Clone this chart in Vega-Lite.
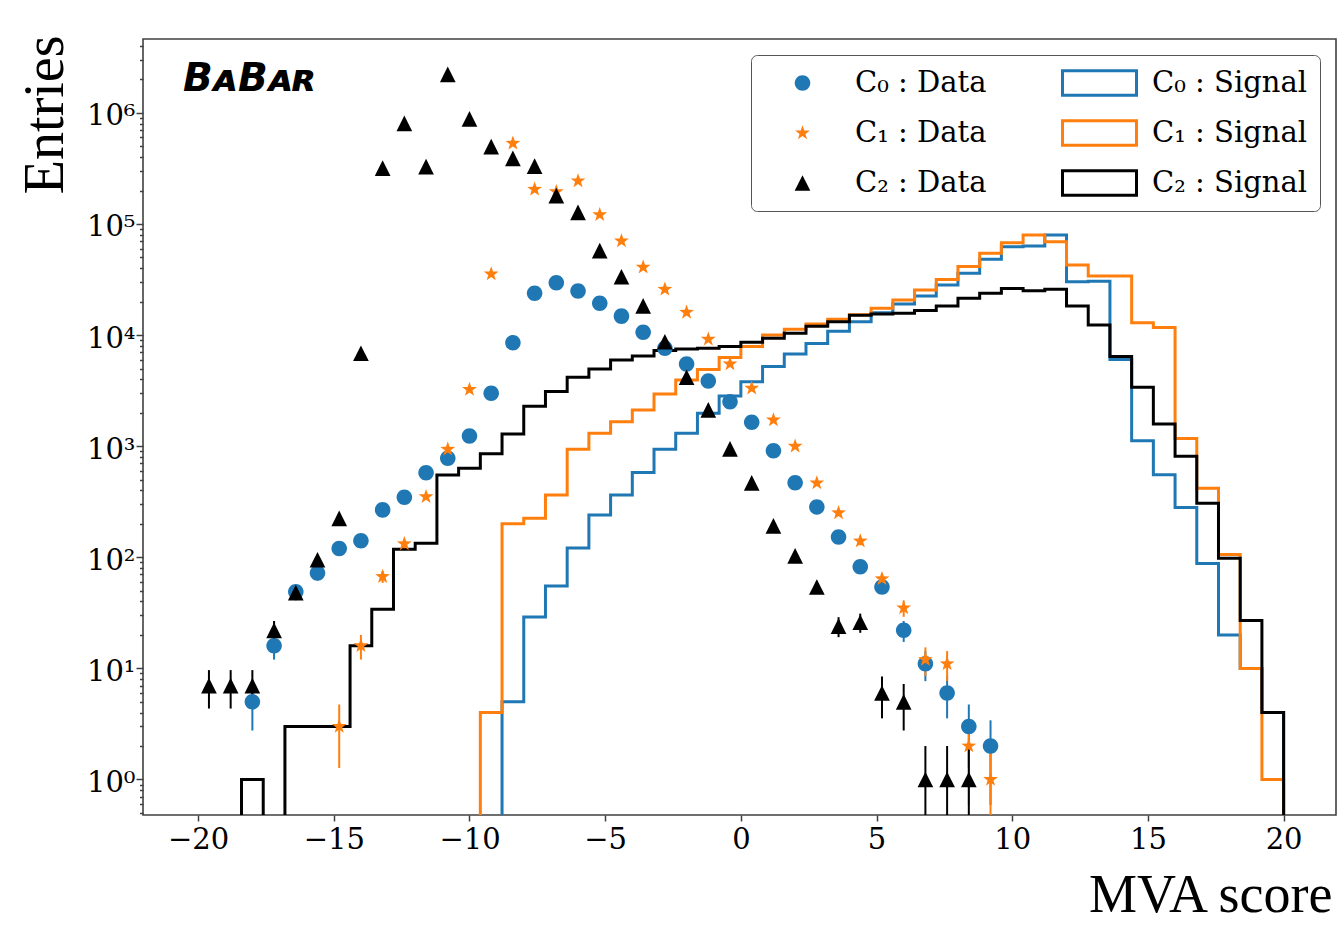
{
 "$schema": "https://vega.github.io/schema/vega-lite/v6.json",
 "width": 1193,
 "height": 776,
 "autosize": {"type": "none"},
 "padding": {"left": 143, "top": 39, "right": 5, "bottom": 110},
 "background": "white",
 "config": {
  "view": {"stroke": "#404040", "strokeWidth": 1.6},
  "axis": {"grid": false, "domain": false, "labelFont": "DejaVu Serif", "labelFontSize": 29, "labelColor": "#000", "tickColor": "#404040", "tickWidth": 1.5, "titleColor": "#000", "titleFont": "Liberation Serif", "titleFontWeight": "normal"},
  "legend": {"orient": "top-right", "offset": 16, "columns": 2, "labelFont": "DejaVu Serif", "labelFontSize": 29, "labelColor": "#000", "labelOffset": 14, "clipHeight": 30, "rowPadding": 20, "columnPadding": 74, "padding": 13, "strokeColor": "#555", "cornerRadius": 6, "symbolStrokeWidth": 3, "symbolSize": 5476, "labelLimit": 0, "symbolOpacity": 1}
 },
 "datasets": {
  "sig": [
   {"s":"C₀ : Signal","e":-20,"n":0},{"s":"C₀ : Signal","e":-19.2,"n":0},{"s":"C₀ : Signal","e":-18.4,"n":0},{"s":"C₀ : Signal","e":-17.6,"n":0},{"s":"C₀ : Signal","e":-16.8,"n":0},{"s":"C₀ : Signal","e":-16,"n":0},{"s":"C₀ : Signal","e":-15.2,"n":0},{"s":"C₀ : Signal","e":-14.4,"n":0},{"s":"C₀ : Signal","e":-13.6,"n":0},{"s":"C₀ : Signal","e":-12.8,"n":0},
   {"s":"C₀ : Signal","e":-12,"n":0},{"s":"C₀ : Signal","e":-11.2,"n":0},{"s":"C₀ : Signal","e":-10.4,"n":0},{"s":"C₀ : Signal","e":-9.6,"n":0},{"s":"C₀ : Signal","e":-8.8,"n":5},{"s":"C₀ : Signal","e":-8,"n":29},{"s":"C₀ : Signal","e":-7.2,"n":55},{"s":"C₀ : Signal","e":-6.4,"n":121},{"s":"C₀ : Signal","e":-5.6,"n":240},{"s":"C₀ : Signal","e":-4.8,"n":363},
   {"s":"C₀ : Signal","e":-4,"n":578},{"s":"C₀ : Signal","e":-3.2,"n":937},{"s":"C₀ : Signal","e":-2.4,"n":1310},{"s":"C₀ : Signal","e":-1.6,"n":1980},{"s":"C₀ : Signal","e":-0.8,"n":2830},{"s":"C₀ : Signal","e":0,"n":3800},{"s":"C₀ : Signal","e":0.8,"n":5200},{"s":"C₀ : Signal","e":1.6,"n":6760},{"s":"C₀ : Signal","e":2.4,"n":8400},{"s":"C₀ : Signal","e":3.2,"n":10800},
   {"s":"C₀ : Signal","e":4,"n":13200},{"s":"C₀ : Signal","e":4.8,"n":15900},{"s":"C₀ : Signal","e":5.6,"n":19000},{"s":"C₀ : Signal","e":6.4,"n":22500},{"s":"C₀ : Signal","e":7.2,"n":28200},{"s":"C₀ : Signal","e":8,"n":36000},{"s":"C₀ : Signal","e":8.8,"n":48000},{"s":"C₀ : Signal","e":9.6,"n":62500},{"s":"C₀ : Signal","e":10.4,"n":63300},{"s":"C₀ : Signal","e":11.2,"n":79600},
   {"s":"C₀ : Signal","e":12,"n":30200},{"s":"C₀ : Signal","e":12.8,"n":30500},{"s":"C₀ : Signal","e":13.6,"n":6040},{"s":"C₀ : Signal","e":14.4,"n":1120},{"s":"C₀ : Signal","e":15.2,"n":552},{"s":"C₀ : Signal","e":16,"n":281},{"s":"C₀ : Signal","e":16.8,"n":88},{"s":"C₀ : Signal","e":17.6,"n":20},{"s":"C₀ : Signal","e":18.4,"n":10},{"s":"C₀ : Signal","e":19.2,"n":4},{"s":"C₀ : Signal","e":20,"n":0},

   {"s":"C₁ : Signal","e":-20,"n":0},{"s":"C₁ : Signal","e":-19.2,"n":0},{"s":"C₁ : Signal","e":-18.4,"n":0},{"s":"C₁ : Signal","e":-17.6,"n":0},{"s":"C₁ : Signal","e":-16.8,"n":0},{"s":"C₁ : Signal","e":-16,"n":0},{"s":"C₁ : Signal","e":-15.2,"n":0},{"s":"C₁ : Signal","e":-14.4,"n":0},{"s":"C₁ : Signal","e":-13.6,"n":0},{"s":"C₁ : Signal","e":-12.8,"n":0},
   {"s":"C₁ : Signal","e":-12,"n":0},{"s":"C₁ : Signal","e":-11.2,"n":0},{"s":"C₁ : Signal","e":-10.4,"n":0},{"s":"C₁ : Signal","e":-9.6,"n":4},{"s":"C₁ : Signal","e":-8.8,"n":200},{"s":"C₁ : Signal","e":-8,"n":224},{"s":"C₁ : Signal","e":-7.2,"n":363},{"s":"C₁ : Signal","e":-6.4,"n":937},{"s":"C₁ : Signal","e":-5.6,"n":1310},{"s":"C₁ : Signal","e":-4.8,"n":1660},
   {"s":"C₁ : Signal","e":-4,"n":2120},{"s":"C₁ : Signal","e":-3.2,"n":2950},{"s":"C₁ : Signal","e":-2.4,"n":3950},{"s":"C₁ : Signal","e":-1.6,"n":4900},{"s":"C₁ : Signal","e":-0.8,"n":6270},{"s":"C₁ : Signal","e":0,"n":7870},{"s":"C₁ : Signal","e":0.8,"n":10000},{"s":"C₁ : Signal","e":1.6,"n":11300},{"s":"C₁ : Signal","e":2.4,"n":12600},{"s":"C₁ : Signal","e":3.2,"n":13900},
   {"s":"C₁ : Signal","e":4,"n":15200},{"s":"C₁ : Signal","e":4.8,"n":17400},{"s":"C₁ : Signal","e":5.6,"n":20700},{"s":"C₁ : Signal","e":6.4,"n":25500},{"s":"C₁ : Signal","e":7.2,"n":31700},{"s":"C₁ : Signal","e":8,"n":41300},{"s":"C₁ : Signal","e":8.8,"n":54500},{"s":"C₁ : Signal","e":9.6,"n":67700},{"s":"C₁ : Signal","e":10.4,"n":79600},{"s":"C₁ : Signal","e":11.2,"n":69300},
   {"s":"C₁ : Signal","e":12,"n":42800},{"s":"C₁ : Signal","e":12.8,"n":34000},{"s":"C₁ : Signal","e":13.6,"n":34000},{"s":"C₁ : Signal","e":14.4,"n":12900},{"s":"C₁ : Signal","e":15.2,"n":11700},{"s":"C₁ : Signal","e":16,"n":1170},{"s":"C₁ : Signal","e":16.8,"n":417},{"s":"C₁ : Signal","e":17.6,"n":106},{"s":"C₁ : Signal","e":18.4,"n":10},{"s":"C₁ : Signal","e":19.2,"n":1},{"s":"C₁ : Signal","e":20,"n":0},

   {"s":"C₂ : Signal","e":-20,"n":0},{"s":"C₂ : Signal","e":-19.2,"n":0},{"s":"C₂ : Signal","e":-18.4,"n":1},{"s":"C₂ : Signal","e":-17.6,"n":0},{"s":"C₂ : Signal","e":-16.8,"n":3},{"s":"C₂ : Signal","e":-16,"n":3},{"s":"C₂ : Signal","e":-15.2,"n":3},{"s":"C₂ : Signal","e":-14.4,"n":16},{"s":"C₂ : Signal","e":-13.6,"n":34},{"s":"C₂ : Signal","e":-12.8,"n":118},
   {"s":"C₂ : Signal","e":-12,"n":134},{"s":"C₂ : Signal","e":-11.2,"n":551},{"s":"C₂ : Signal","e":-10.4,"n":632},{"s":"C₂ : Signal","e":-9.6,"n":855},{"s":"C₂ : Signal","e":-8.8,"n":1290},{"s":"C₂ : Signal","e":-8,"n":2290},{"s":"C₂ : Signal","e":-7.2,"n":3100},{"s":"C₂ : Signal","e":-6.4,"n":4170},{"s":"C₂ : Signal","e":-5.6,"n":4950},{"s":"C₂ : Signal","e":-4.8,"n":5970},
   {"s":"C₂ : Signal","e":-4,"n":6470},{"s":"C₂ : Signal","e":-3.2,"n":7250},{"s":"C₂ : Signal","e":-2.4,"n":7500},{"s":"C₂ : Signal","e":-1.6,"n":7600},{"s":"C₂ : Signal","e":-0.8,"n":7870},{"s":"C₂ : Signal","e":0,"n":8600},{"s":"C₂ : Signal","e":0.8,"n":9350},{"s":"C₂ : Signal","e":1.6,"n":10400},{"s":"C₂ : Signal","e":2.4,"n":12000},{"s":"C₂ : Signal","e":3.2,"n":13200},
   {"s":"C₂ : Signal","e":4,"n":15100},{"s":"C₂ : Signal","e":4.8,"n":15500},{"s":"C₂ : Signal","e":5.6,"n":15700},{"s":"C₂ : Signal","e":6.4,"n":16600},{"s":"C₂ : Signal","e":7.2,"n":18300},{"s":"C₂ : Signal","e":8,"n":21400},{"s":"C₂ : Signal","e":8.8,"n":23800},{"s":"C₂ : Signal","e":9.6,"n":26300},{"s":"C₂ : Signal","e":10.4,"n":25100},{"s":"C₂ : Signal","e":11.2,"n":25800},
   {"s":"C₂ : Signal","e":12,"n":18300},{"s":"C₂ : Signal","e":12.8,"n":12300},{"s":"C₂ : Signal","e":13.6,"n":6400},{"s":"C₂ : Signal","e":14.4,"n":3390},{"s":"C₂ : Signal","e":15.2,"n":1580},{"s":"C₂ : Signal","e":16,"n":810},{"s":"C₂ : Signal","e":16.8,"n":306},{"s":"C₂ : Signal","e":17.6,"n":98},{"s":"C₂ : Signal","e":18.4,"n":27},{"s":"C₂ : Signal","e":19.2,"n":4},{"s":"C₂ : Signal","e":20,"n":0}
  ],
  "pts": [
   {"s":"C₀ : Data","x":-18.0,"n":5,"lo":2.76,"hi":7.24},{"s":"C₀ : Data","x":-17.2,"n":16,"lo":12,"hi":20},{"s":"C₀ : Data","x":-16.4,"n":49,"lo":42,"hi":56},{"s":"C₀ : Data","x":-15.6,"n":72,"lo":63.5,"hi":80.5},{"s":"C₀ : Data","x":-14.8,"n":120,"lo":109,"hi":131},{"s":"C₀ : Data","x":-14.0,"n":141,"lo":129.1,"hi":152.9},
   {"s":"C₀ : Data","x":-13.2,"n":267},{"s":"C₀ : Data","x":-12.4,"n":347},{"s":"C₀ : Data","x":-11.6,"n":576},{"s":"C₀ : Data","x":-10.8,"n":778},{"s":"C₀ : Data","x":-10.0,"n":1236},{"s":"C₀ : Data","x":-9.2,"n":2990},{"s":"C₀ : Data","x":-8.4,"n":8520},{"s":"C₀ : Data","x":-7.6,"n":23800},{"s":"C₀ : Data","x":-6.8,"n":29600},{"s":"C₀ : Data","x":-6.0,"n":24900},
   {"s":"C₀ : Data","x":-5.2,"n":19300},{"s":"C₀ : Data","x":-4.4,"n":14800},{"s":"C₀ : Data","x":-3.6,"n":10600},{"s":"C₀ : Data","x":-2.8,"n":7600},{"s":"C₀ : Data","x":-2.0,"n":5490},{"s":"C₀ : Data","x":-1.2,"n":3860},{"s":"C₀ : Data","x":-0.4,"n":2510},{"s":"C₀ : Data","x":0.4,"n":1640},{"s":"C₀ : Data","x":1.2,"n":911},{"s":"C₀ : Data","x":2.0,"n":469},
   {"s":"C₀ : Data","x":2.8,"n":284},{"s":"C₀ : Data","x":3.6,"n":152},{"s":"C₀ : Data","x":4.4,"n":82,"lo":72.9,"hi":91.1},{"s":"C₀ : Data","x":5.2,"n":54,"lo":46.7,"hi":61.3},{"s":"C₀ : Data","x":6.0,"n":22,"lo":17.3,"hi":26.7},{"s":"C₀ : Data","x":6.8,"n":11,"lo":7.68,"hi":14.32},{"s":"C₀ : Data","x":7.6,"n":6,"lo":3.55,"hi":8.45},{"s":"C₀ : Data","x":8.4,"n":3,"lo":1.27,"hi":4.73},{"s":"C₀ : Data","x":9.2,"n":2,"lo":0.59,"hi":3.41},

   {"s":"C₁ : Data","x":-14.8,"n":3,"lo":1.27,"hi":4.73},{"s":"C₁ : Data","x":-14.0,"n":16,"lo":12,"hi":20},{"s":"C₁ : Data","x":-13.2,"n":67,"lo":58.8,"hi":75.2},{"s":"C₁ : Data","x":-12.4,"n":132,"lo":120.5,"hi":143.5},{"s":"C₁ : Data","x":-11.6,"n":351},{"s":"C₁ : Data","x":-10.8,"n":937},{"s":"C₁ : Data","x":-10.0,"n":3240},{"s":"C₁ : Data","x":-9.2,"n":35500},{"s":"C₁ : Data","x":-8.4,"n":532000},{"s":"C₁ : Data","x":-7.6,"n":205000},
   {"s":"C₁ : Data","x":-6.8,"n":195000},{"s":"C₁ : Data","x":-6.0,"n":244000},{"s":"C₁ : Data","x":-5.2,"n":121000},{"s":"C₁ : Data","x":-4.4,"n":70300},{"s":"C₁ : Data","x":-3.6,"n":40800},{"s":"C₁ : Data","x":-2.8,"n":25800},{"s":"C₁ : Data","x":-2.0,"n":16000},{"s":"C₁ : Data","x":-1.2,"n":9170},{"s":"C₁ : Data","x":-0.4,"n":5490},{"s":"C₁ : Data","x":0.4,"n":3320},
   {"s":"C₁ : Data","x":1.2,"n":1720},{"s":"C₁ : Data","x":2.0,"n":1000},{"s":"C₁ : Data","x":2.8,"n":466},{"s":"C₁ : Data","x":3.6,"n":251},{"s":"C₁ : Data","x":4.4,"n":140,"lo":128.2,"hi":151.8},{"s":"C₁ : Data","x":5.2,"n":64,"lo":56,"hi":72},{"s":"C₁ : Data","x":6.0,"n":35,"lo":29.1,"hi":40.9},{"s":"C₁ : Data","x":6.8,"n":12,"lo":8.54,"hi":15.46},{"s":"C₁ : Data","x":7.6,"n":11,"lo":7.68,"hi":14.32},{"s":"C₁ : Data","x":8.4,"n":2,"lo":0.59,"hi":3.41},{"s":"C₁ : Data","x":9.2,"n":1,"lo":0,"hi":2},

   {"s":"C₂ : Data","x":-19.6,"n":7,"lo":4.35,"hi":9.65},{"s":"C₂ : Data","x":-18.8,"n":7,"lo":4.35,"hi":9.65},{"s":"C₂ : Data","x":-18.0,"n":7,"lo":4.35,"hi":9.65},{"s":"C₂ : Data","x":-17.2,"n":22,"lo":17.3,"hi":26.7},{"s":"C₂ : Data","x":-16.4,"n":48,"lo":41.1,"hi":54.9},{"s":"C₂ : Data","x":-15.6,"n":95,"lo":85.3,"hi":104.7},{"s":"C₂ : Data","x":-14.8,"n":224},{"s":"C₂ : Data","x":-14.0,"n":6860},{"s":"C₂ : Data","x":-13.2,"n":318000},{"s":"C₂ : Data","x":-12.4,"n":805000},
   {"s":"C₂ : Data","x":-11.6,"n":328000},{"s":"C₂ : Data","x":-10.8,"n":2220000},{"s":"C₂ : Data","x":-10.0,"n":881000},{"s":"C₂ : Data","x":-9.2,"n":497000},{"s":"C₂ : Data","x":-8.4,"n":389000},{"s":"C₂ : Data","x":-7.6,"n":332000},{"s":"C₂ : Data","x":-6.8,"n":180000},{"s":"C₂ : Data","x":-6.0,"n":127000},{"s":"C₂ : Data","x":-5.2,"n":57500},{"s":"C₂ : Data","x":-4.4,"n":33500},
   {"s":"C₂ : Data","x":-3.6,"n":18300},{"s":"C₂ : Data","x":-2.8,"n":8700},{"s":"C₂ : Data","x":-2.0,"n":4170},{"s":"C₂ : Data","x":-1.2,"n":2120},{"s":"C₂ : Data","x":-0.4,"n":944},{"s":"C₂ : Data","x":0.4,"n":468},{"s":"C₂ : Data","x":1.2,"n":192},{"s":"C₂ : Data","x":2.0,"n":103},{"s":"C₂ : Data","x":2.8,"n":54,"lo":46.7,"hi":61.3},{"s":"C₂ : Data","x":3.6,"n":24,"lo":19.1,"hi":28.9},
   {"s":"C₂ : Data","x":4.4,"n":26,"lo":20.9,"hi":31.1},{"s":"C₂ : Data","x":5.2,"n":6,"lo":3.55,"hi":8.45},{"s":"C₂ : Data","x":6.0,"n":5,"lo":2.76,"hi":7.24},{"s":"C₂ : Data","x":6.8,"n":1,"lo":0,"hi":2},{"s":"C₂ : Data","x":7.6,"n":1,"lo":0,"hi":2},{"s":"C₂ : Data","x":8.4,"n":1,"lo":0,"hi":2}
  ]
 },
 "layer": [
  {
   "data": {"name": "sig"},
   "mark": {"type": "line", "interpolate": "step-after", "strokeWidth": 3, "clip": true, "invalid": "show"},
   "encoding": {
    "x": {"field": "e", "type": "quantitative", "scale": {"domain": [-22.03, 21.93], "nice": false, "zero": false},
     "axis": {"orient": "bottom", "values": [-20, -15, -10, -5, 0, 5, 10, 15, 20], "tickSize": 6, "labelPadding": 4, "labelFlush": false, "labelOverlap": false, "title": "MVA score", "titleFontSize": 54, "titleAlign": "right", "titleAnchor": "end", "titleBaseline": "alphabetic", "titleX": 1189, "titleY": 96}},
    "y": {"field": "n", "type": "quantitative", "scale": {"type": "log", "domain": [0.2913, 4620000], "range": [800, 0], "nice": false, "clamp": true},
     "axis": {"orient": "left", "values": [0.5,0.6,0.7,0.8,0.9,1,2,3,4,5,6,7,8,9,10,20,30,40,50,60,70,80,90,100,200,300,400,500,600,700,800,900,1000,2000,3000,4000,5000,6000,7000,8000,9000,10000,20000,30000,40000,50000,60000,70000,80000,90000,100000,200000,300000,400000,500000,600000,700000,800000,900000,1000000,2000000,3000000,4000000],
      "tickSize": 7, "tickDash": {"condition": {"test": "indexof([1,10,100,1000,10000,100000,1000000], datum.value) >= 0", "value": [10, 2]}, "value": [3.5, 10]},
      "labelPadding": 1, "labelOffset": 3, "labelOverlap": false, "labelFlush": false, "labelBaseline": "middle",
      "labelExpr": "datum.value == 1 ? '10⁰' : datum.value == 10 ? '10¹' : datum.value == 100 ? '10²' : datum.value == 1000 ? '10³' : datum.value == 10000 ? '10⁴' : datum.value == 100000 ? '10⁵' : datum.value == 1000000 ? '10⁶' : ''",
      "title": "Entries", "titleFontSize": 56, "titleAngle": 270, "titleAlign": "right", "titleBaseline": "alphabetic", "titleX": -81, "titleY": -4}},
    "color": {"field": "s", "type": "nominal", "scale": {"domain": ["C₀ : Signal", "C₁ : Signal", "C₂ : Signal", "C₀ : Data", "C₁ : Data", "C₂ : Data"], "range": ["#1f77b4", "#ff7f0e", "#000000", "#1f77b4", "#ff7f0e", "#000000"]}, "legend": null}
   }
  },
  {
   "data": {"name": "pts"},
   "transform": [{"filter": "datum.hi > 0"}],
   "mark": {"type": "rule", "strokeWidth": 2, "clip": true, "invalid": "show"},
   "encoding": {
    "x": {"field": "x", "type": "quantitative", "scale": {"domain": [-22.03, 21.93], "nice": false, "zero": false}},
    "y": {"field": "lo", "type": "quantitative", "scale": {"type": "log", "domain": [0.2913, 4620000], "range": [800, 0], "nice": false, "clamp": true}},
    "y2": {"field": "hi"},
    "color": {"field": "s", "type": "nominal", "scale": {"domain": ["C₀ : Signal", "C₁ : Signal", "C₂ : Signal", "C₀ : Data", "C₁ : Data", "C₂ : Data"], "range": ["#1f77b4", "#ff7f0e", "#000000", "#1f77b4", "#ff7f0e", "#000000"]}, "legend": null}
   }
  },
  {
   "data": {"name": "pts"},
   "mark": {"type": "point", "filled": true, "opacity": 1, "strokeWidth": 3, "size": 5476},
   "encoding": {
    "x": {"field": "x", "type": "quantitative", "scale": {"domain": [-22.03, 21.93], "nice": false, "zero": false}},
    "y": {"field": "n", "type": "quantitative", "scale": {"type": "log", "domain": [0.2913, 4620000], "range": [800, 0], "nice": false, "clamp": true}},
    "fill": {"field": "s", "type": "nominal", "scale": {"domain": ["C₀ : Data", "C₁ : Data", "C₂ : Data", "C₀ : Signal", "C₁ : Signal", "C₂ : Signal"], "range": ["#1f77b4", "#ff7f0e", "#000000", "transparent", "transparent", "transparent"]}, "legend": {"title": null}},
    "stroke": {"field": "s", "type": "nominal", "scale": {"domain": ["C₀ : Data", "C₁ : Data", "C₂ : Data", "C₀ : Signal", "C₁ : Signal", "C₂ : Signal"], "range": ["transparent", "transparent", "transparent", "#1f77b4", "#ff7f0e", "#000000"]}, "legend": {"title": null}},
    "shape": {"field": "s", "type": "nominal", "scale": {"domain": ["C₀ : Data", "C₁ : Data", "C₂ : Data", "C₀ : Signal", "C₁ : Signal", "C₂ : Signal"], "range": ["M0.21,0A0.21,0.21,0,1,1,-0.21,0A0.21,0.21,0,1,1,0.21,0Z", "M0,-0.21L0.0494,-0.068L0.1997,-0.0649L0.0799,0.026L0.1234,0.1699L0,0.084L-0.1234,0.1699L-0.0799,0.026L-0.1997,-0.0649L-0.0494,-0.068Z", "M0,-0.212L0.212,0.212L-0.212,0.212Z", "M-1,-0.33H1V0.33H-1Z", "M-1,-0.33H1V0.33H-1Z", "M-1,-0.33H1V0.33H-1Z"]}, "legend": {"title": null}}
   }
  },
  {
   "data": {"values": [{"label": "BᴀBᴀʀ", "x": -20.56, "y": 1574000}]},
   "mark": {"type": "text", "font": "DejaVu Sans", "fontSize": 39, "fontWeight": "bold", "fontStyle": "italic", "align": "left", "baseline": "alphabetic", "color": "#000"},
   "encoding": {
    "x": {"field": "x", "type": "quantitative", "scale": {"domain": [-22.03, 21.93], "nice": false, "zero": false}},
    "y": {"field": "y", "type": "quantitative", "scale": {"type": "log", "domain": [0.2913, 4620000], "range": [800, 0], "nice": false, "clamp": true}},
    "text": {"field": "label"}
   }
  }
 ]
}
